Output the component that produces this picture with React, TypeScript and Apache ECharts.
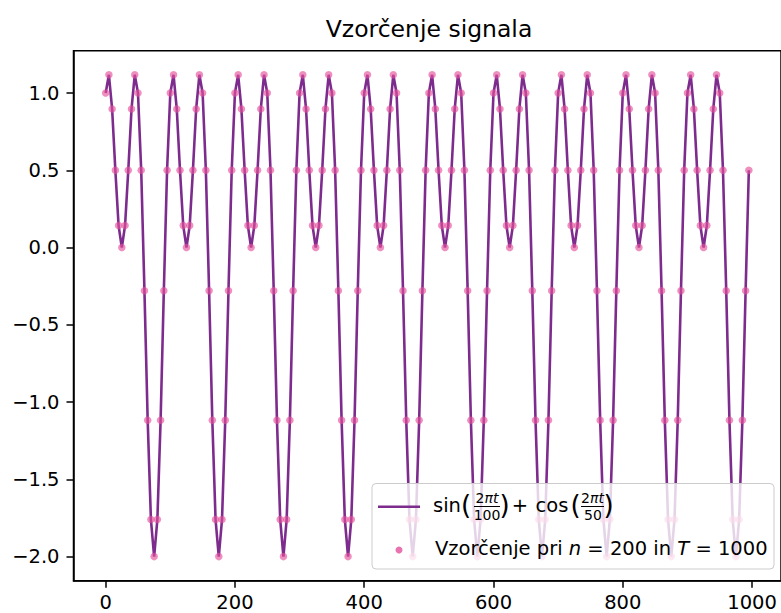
import React, { useEffect, useRef } from 'react';
import * as echarts from 'echarts';

const TITLE = 'Vzorčenje signala';

const sampleTimes = [
  0, 5, 10, 15, 20, 25, 30, 35, 40, 45, 50, 55, 60, 65, 70, 75, 80, 85, 90, 95,
  100, 105, 110, 115, 120, 125, 130, 135, 140, 145, 150, 155, 160, 165, 170, 175, 180, 185, 190, 195,
  200, 205, 210, 215, 220, 225, 230, 235, 240, 245, 250, 255, 260, 265, 270, 275, 280, 285, 290, 295,
  300, 305, 310, 315, 320, 325, 330, 335, 340, 345, 350, 355, 360, 365, 370, 375, 380, 385, 390, 395,
  400, 405, 410, 415, 420, 425, 430, 435, 440, 445, 450, 455, 460, 465, 470, 475, 480, 485, 490, 495,
  500, 505, 510, 515, 520, 525, 530, 535, 540, 545, 550, 555, 560, 565, 570, 575, 580, 585, 590, 595,
  600, 605, 610, 615, 620, 625, 630, 635, 640, 645, 650, 655, 660, 665, 670, 675, 680, 685, 690, 695,
  700, 705, 710, 715, 720, 725, 730, 735, 740, 745, 750, 755, 760, 765, 770, 775, 780, 785, 790, 795,
  800, 805, 810, 815, 820, 825, 830, 835, 840, 845, 850, 855, 860, 865, 870, 875, 880, 885, 890, 895,
  900, 905, 910, 915, 920, 925, 930, 935, 940, 945, 950, 955, 960, 965, 970, 975, 980, 985, 990, 995,
];

const sampleValues = [
  1.0, 1.118, 0.897, 0.5, 0.142, 0.0, 0.142, 0.5, 0.897, 1.118, 1.0, 0.5, -0.279, -1.118, -1.76, -2.0, -1.76, -1.118, -0.279, 0.5,
  1.0, 1.118, 0.897, 0.5, 0.142, 0.0, 0.142, 0.5, 0.897, 1.118, 1.0, 0.5, -0.279, -1.118, -1.76, -2.0, -1.76, -1.118, -0.279, 0.5,
  1.0, 1.118, 0.897, 0.5, 0.142, 0.0, 0.142, 0.5, 0.897, 1.118, 1.0, 0.5, -0.279, -1.118, -1.76, -2.0, -1.76, -1.118, -0.279, 0.5,
  1.0, 1.118, 0.897, 0.5, 0.142, 0.0, 0.142, 0.5, 0.897, 1.118, 1.0, 0.5, -0.279, -1.118, -1.76, -2.0, -1.76, -1.118, -0.279, 0.5,
  1.0, 1.118, 0.897, 0.5, 0.142, 0.0, 0.142, 0.5, 0.897, 1.118, 1.0, 0.5, -0.279, -1.118, -1.76, -2.0, -1.76, -1.118, -0.279, 0.5,
  1.0, 1.118, 0.897, 0.5, 0.142, 0.0, 0.142, 0.5, 0.897, 1.118, 1.0, 0.5, -0.279, -1.118, -1.76, -2.0, -1.76, -1.118, -0.279, 0.5,
  1.0, 1.118, 0.897, 0.5, 0.142, 0.0, 0.142, 0.5, 0.897, 1.118, 1.0, 0.5, -0.279, -1.118, -1.76, -2.0, -1.76, -1.118, -0.279, 0.5,
  1.0, 1.118, 0.897, 0.5, 0.142, 0.0, 0.142, 0.5, 0.897, 1.118, 1.0, 0.5, -0.279, -1.118, -1.76, -2.0, -1.76, -1.118, -0.279, 0.5,
  1.0, 1.118, 0.897, 0.5, 0.142, 0.0, 0.142, 0.5, 0.897, 1.118, 1.0, 0.5, -0.279, -1.118, -1.76, -2.0, -1.76, -1.118, -0.279, 0.5,
  1.0, 1.118, 0.897, 0.5, 0.142, 0.0, 0.142, 0.5, 0.897, 1.118, 1.0, 0.5, -0.279, -1.118, -1.76, -2.0, -1.76, -1.118, -0.279, 0.5,
];

const xTicks = [0, 200, 400, 600, 800, 1000];
const yTicks = [-2.0, -1.5, -1.0, -0.5, 0.0, 0.5, 1.0];

const LINE_COLOR = '#7e2b8e';
const DOT_COLOR = 'rgba(228,80,155,0.8)';
const FONT = 'DejaVu Sans';

export default function App() {
  const ref = useRef<HTMLDivElement>(null);

  useEffect(() => {
    document.body.style.margin = '0';
    const chart = echarts.init(ref.current!, null, { renderer: 'svg' });
    const data = sampleTimes.map((t, i) => [t, sampleValues[i]]);

    const txt = (text: string, x: number, y: number, size: number, extra: any = {}) => ({
      type: 'text',
      x,
      y,
      z: 102,
      style: {
        text,
        fill: '#000',
        font: `${size}px "${FONT}"`,
        align: 'center',
        verticalAlign: 'middle',
        ...extra,
      },
    });
    const frac = (text: string, x: number, y: number) =>
      txt(text, x, y, 14, {
        lineHeight: 14,
        rich: { i: { fontStyle: 'italic', fontFamily: FONT, fontSize: 14, lineHeight: 14, fill: '#000' } },
      });

    chart.setOption({
      animation: false,
      title: {
        text: TITLE,
        left: 424,
        top: 12,
        textAlign: 'center',
        textStyle: { fontFamily: FONT, fontSize: 23.5, fontWeight: 'normal', color: '#000' },
      },
      grid: {
        left: 73.5,
        right: -4,
        top: 50.7,
        bottom: 32.3,
        show: true,
        borderColor: '#000',
        borderWidth: 1.5,
        backgroundColor: 'transparent',
      },
      xAxis: {
        type: 'value',
        min: -49.75,
        max: 1044.75,
        axisLine: { show: true, onZero: false, lineStyle: { color: '#000', width: 1.5 } },
        axisTick: { show: true, length: 7, lineStyle: { color: '#000', width: 1.5 }, customValues: xTicks },
        axisLabel: {
          customValues: xTicks,
          margin: 12,
          fontSize: 19.5,
          fontFamily: FONT,
          color: '#000',
          formatter: (v: number) => String(v),
        },
        splitLine: { show: false },
      },
      yAxis: {
        type: 'value',
        min: -2.156,
        max: 1.274,
        axisLine: { show: true, onZero: false, lineStyle: { color: '#000', width: 1.5 } },
        axisTick: { show: true, length: 7, lineStyle: { color: '#000', width: 1.5 }, customValues: yTicks },
        axisLabel: {
          customValues: yTicks,
          margin: 14,
          fontSize: 19.5,
          fontFamily: FONT,
          color: '#000',
          formatter: (v: number) => v.toFixed(1).replace('-', '\u2212'),
        },
        splitLine: { show: false },
      },
      series: [
        {
          type: 'line',
          data,
          symbol: 'none',
          lineStyle: { color: LINE_COLOR, width: 2.6 },
          z: 2,
        },
        {
          type: 'scatter',
          data,
          symbolSize: 7.5,
          itemStyle: { color: DOT_COLOR },
          z: 3,
        },
      ],
      graphic: [
        {
          type: 'rect',
          z: 100,
          shape: { x: 372, y: 483.5, width: 402, height: 85.5, r: 4 },
          style: { fill: 'rgba(255,255,255,0.8)', stroke: '#cccccc', lineWidth: 1 },
        },
        {
          type: 'line',
          z: 101,
          shape: { x1: 378, y1: 506.7, x2: 420, y2: 506.7 },
          style: { stroke: LINE_COLOR, lineWidth: 2.6 },
        },
        {
          type: 'circle',
          z: 101,
          shape: { cx: 399, cy: 550, r: 3.5 },
          style: { fill: DOT_COLOR },
        },
        txt('sin', 447, 505, 19.5),
        txt('(', 466, 505, 26, { lineHeight: 26 }),
        frac('2{i|πt}', 487, 498),
        { type: 'line', z: 101, shape: { x1: 474, y1: 506.5, x2: 500, y2: 506.5 }, style: { stroke: '#000', lineWidth: 1 } },
        frac('100', 487, 514.5),
        txt(')', 504.5, 505, 26, { lineHeight: 26 }),
        txt('+', 520, 505, 19.5),
        txt('cos', 552, 505, 19.5),
        txt('(', 575.5, 505, 26, { lineHeight: 26 }),
        frac('2{i|πt}', 592.5, 498),
        { type: 'line', z: 101, shape: { x1: 581, y1: 506.5, x2: 604, y2: 506.5 }, style: { stroke: '#000', lineWidth: 1 } },
        frac('50', 593, 514.5),
        txt(')', 608.5, 505, 26, { lineHeight: 26 }),
        {
          type: 'text',
          x: 435,
          y: 548.5,
          z: 102,
          style: {
            text: 'Vzorčenje pri {i|n} = 200 in {i|T} = 1000',
            fill: '#000',
            font: `19.5px "${FONT}"`,
            align: 'left',
            verticalAlign: 'middle',
            rich: {
              i: { fontStyle: 'italic', fontFamily: FONT, fontSize: 19.5, fill: '#000' },
            },
          },
        },
      ],
    });

    return () => chart.dispose();
  }, []);

  return <div ref={ref} style={{ width: 781, height: 613 }} />;
}
